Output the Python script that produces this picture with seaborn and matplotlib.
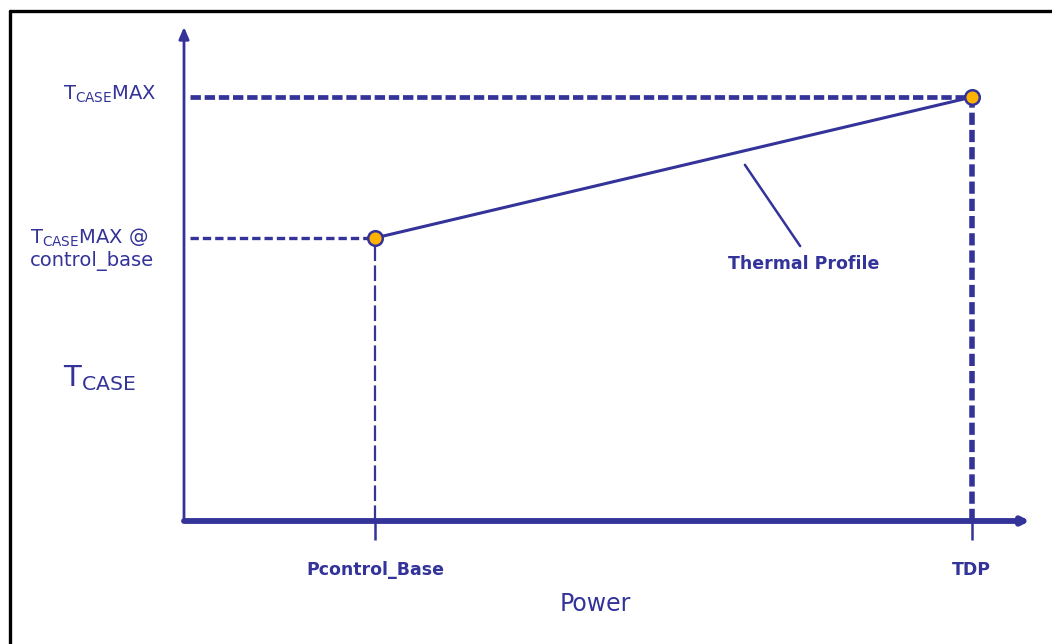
import matplotlib
matplotlib.use("Agg")
import matplotlib.pyplot as plt
from matplotlib.lines import Line2D
import seaborn as sns
import pandas as pd

# Thermal profile: Tcase limit vs. power (normalised axis units)
point_names = ["Pcontrol_Base", "TDP"]
power_levels = [0.226, 0.931]
tcase_values = [0.573, 0.858]
y_labels = [r"T$_{\mathregular{CASE}}$MAX", "T$_{\\mathregular{CASE}}$MAX @\ncontrol_base"]

navy = "#333399"
orange = "#FFB300"

sns.set_style("white")
plt.rcParams["font.family"] = ["DejaVu Sans"]
plt.rcParams["mathtext.default"] = "regular"

df = pd.DataFrame({"Power": power_levels, "Tcase": tcase_values, "name": point_names})

fig = plt.figure(figsize=(10.52, 6.44), dpi=100)
ax = fig.add_axes([184 / 1052, 123 / 644, 846 / 1052, 494 / 644])
ax.set_xlim(0, 1)
ax.set_ylim(0, 1)
for s in ax.spines.values():
    s.set_visible(False)
ax.set_xticks([])
ax.set_yticks([])
ax.patch.set_alpha(0)

# axes with arrow heads
ax.annotate("", xy=(0, 1), xytext=(0, 0), xycoords="axes fraction",
            arrowprops=dict(arrowstyle="-|>,head_length=0.7,head_width=0.3", lw=2, color=navy,
                            shrinkA=0, shrinkB=0))
ax.annotate("", xy=(1, 0), xytext=(0, 0), xycoords="axes fraction",
            arrowprops=dict(arrowstyle="-|>,head_length=0.4,head_width=0.2", lw=4.2, color=navy,
                            shrinkA=0, shrinkB=0))

# dashed guide lines
ax.hlines(tcase_values[1], 0.007, power_levels[1], color=navy, lw=3.4, linestyles=(0, (2.2, 0.8)))
ax.hlines(tcase_values[0], 0.007, power_levels[0], color=navy, lw=2.4, linestyles=(0, (2.5, 1.2)))
ax.vlines(power_levels[0], 0, tcase_values[0], color=navy, lw=1.6, linestyles=(0, (7, 2)))
ax.vlines(power_levels[1], 0, tcase_values[1], color=navy, lw=4, linestyles=(0, (2.2, 0.9)))
# ticks below the x axis
for p in power_levels:
    ax.plot([p, p], [0, -0.038], color=navy, lw=1.8, clip_on=False, solid_capstyle="butt")

# thermal profile line and end points
sns.lineplot(data=df, x="Power", y="Tcase", ax=ax, color=navy, lw=2.2, legend=False)
sns.scatterplot(data=df, x="Power", y="Tcase", ax=ax, color=orange, edgecolor=navy,
                linewidth=1.8, s=110, zorder=5, legend=False)
ax.set_xlabel("")
ax.set_ylabel("")

ax.annotate("Thermal Profile", xy=(0.663, 0.721), xytext=(0.732, 0.52),
            ha="center", va="center", color=navy, fontsize=12.5, fontweight="semibold",
            arrowprops=dict(arrowstyle="-", color=navy, lw=1.8, relpos=(0.52, 1.0),
                            shrinkA=5, shrinkB=0))

# x tick labels and axis title
for name, p in zip(point_names, power_levels):
    ax.text(p, -0.099, name, ha="center", va="center", color=navy, fontsize=12.5,
            fontweight="semibold", clip_on=False)
ax.text(0.486, -0.168, "Power", ha="center", va="center", color=navy, fontsize=17,
        clip_on=False)

# y labels
ytr = ax.get_yaxis_transform()
ax.text(-0.143, tcase_values[1] + 0.005, y_labels[0], transform=ytr, ha="left", va="center",
        color=navy, fontsize=14, clip_on=False)
ax.text(-0.182, tcase_values[0] - 0.022, y_labels[1], transform=ytr, ha="left", va="center",
        color=navy, fontsize=14, clip_on=False, linespacing=1.15)
ax.text(-0.143, 0.289, r"T$_{\mathregular{CASE}}$", transform=ytr, ha="left", va="center",
        color=navy, fontsize=21, clip_on=False)

# frame at top and left edge
fx = 10 / 1052
fy = 1 - 11 / 644
fig.add_artist(Line2D([fx, fx], [0, fy], color="black", lw=2.4, transform=fig.transFigure))
fig.add_artist(Line2D([fx, 1], [fy, fy], color="black", lw=2.4, transform=fig.transFigure))

fig.savefig("out.png", dpi=100)
